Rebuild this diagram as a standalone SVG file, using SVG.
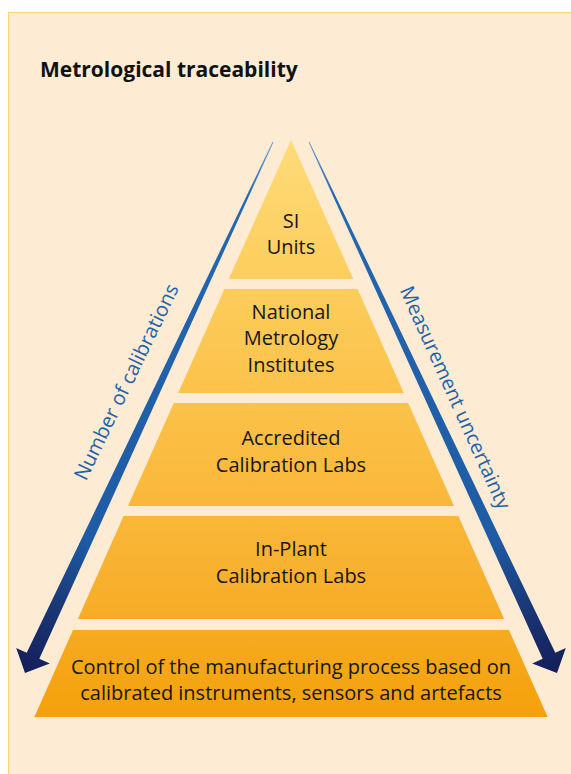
<svg xmlns="http://www.w3.org/2000/svg" xmlns:xlink="http://www.w3.org/1999/xlink" width="571" height="774" viewBox="0 0 571 774">
  <defs>
    <linearGradient id="pyr" gradientUnits="userSpaceOnUse" x1="0" y1="140" x2="0" y2="717">
      <stop offset="0" stop-color="#fedb78"/>
      <stop offset="0.25" stop-color="#fdcd5c"/>
      <stop offset="0.5" stop-color="#fbbf45"/>
      <stop offset="0.75" stop-color="#f8b130"/>
      <stop offset="1" stop-color="#f4a10a"/>
    </linearGradient>
    <linearGradient id="arr" gradientUnits="userSpaceOnUse" x1="273" y1="142" x2="25" y2="673">
      <stop offset="0" stop-color="#6a9dd2"/>
      <stop offset="0.1" stop-color="#2468b0"/>
      <stop offset="0.75" stop-color="#1e5ba4"/>
      <stop offset="0.88" stop-color="#1a3674"/>
      <stop offset="1" stop-color="#141e5a"/>
    </linearGradient>
    <polygon id="arrowL" points="272.6,141.8 273.4,142.2 39.3,658.8 49.8,663.6 25,673 16.2,648 26.7,652.8" fill="url(#arr)"/>
  </defs>
  <style>
    .lvl { fill: url(#pyr); }
    .lbl { font-family: "Open Sans", "Liberation Sans", sans-serif; font-size: 20px; fill: #161616; text-anchor: middle; }
    .side { font-family: "Open Sans", "Liberation Sans", sans-serif; font-size: 20px; fill: #1f62ab; text-anchor: middle; }
    .title { font-family: "Open Sans", "Liberation Sans", sans-serif; font-size: 21px; font-weight: bold; fill: #111111; }
  </style>
  <rect x="8.5" y="12.5" width="570" height="770" fill="#fdebd4" stroke="#fcd27e" stroke-width="1"/>
  <text class="title" x="40" y="77">Metrological traceability</text>

  <g id="connectors">
    <use id="arrow-left" xlink:href="#arrowL"/>
    <use id="arrow-right" xlink:href="#arrowL" transform="translate(582,0) scale(-1,1)"/>
    <text class="side" transform="translate(132.5,385) rotate(-64.3)">Number of calibrations</text>
    <text class="side" transform="translate(449,400.5) rotate(65.8)">Measurement uncertainty</text>
  </g>

  <g id="level1">
    <polygon class="lvl" points="291,140 228.8,279 353.2,279"/>
    <text class="lbl" x="291" y="228">SI</text>
    <text class="lbl" x="291" y="254">Units</text>
  </g>
  <g id="level2">
    <polygon class="lvl" points="224.4,289 357.6,289 403.8,393 178.2,393"/>
    <text class="lbl" x="291" y="318.5">National</text>
    <text class="lbl" x="291" y="345">Metrology</text>
    <text class="lbl" x="291" y="371.5">Institutes</text>
  </g>
  <g id="level3">
    <polygon class="lvl" points="173.8,403 408.2,403 454,506 128,506"/>
    <text class="lbl" x="291" y="445">Accredited</text>
    <text class="lbl" x="291" y="472">Calibration Labs</text>
  </g>
  <g id="level4">
    <polygon class="lvl" points="123.6,516 458.4,516 504.1,619 77.9,619"/>
    <text class="lbl" x="291" y="556">In-Plant</text>
    <text class="lbl" x="291" y="583">Calibration Labs</text>
  </g>
  <g id="level5">
    <polygon class="lvl" points="73,630 509,630 547.6,717 34.4,717"/>
    <text class="lbl" x="291" y="674">Control of the manufacturing process based on</text>
    <text class="lbl" x="291" y="700">calibrated instruments, sensors and artefacts</text>
  </g>
</svg>
